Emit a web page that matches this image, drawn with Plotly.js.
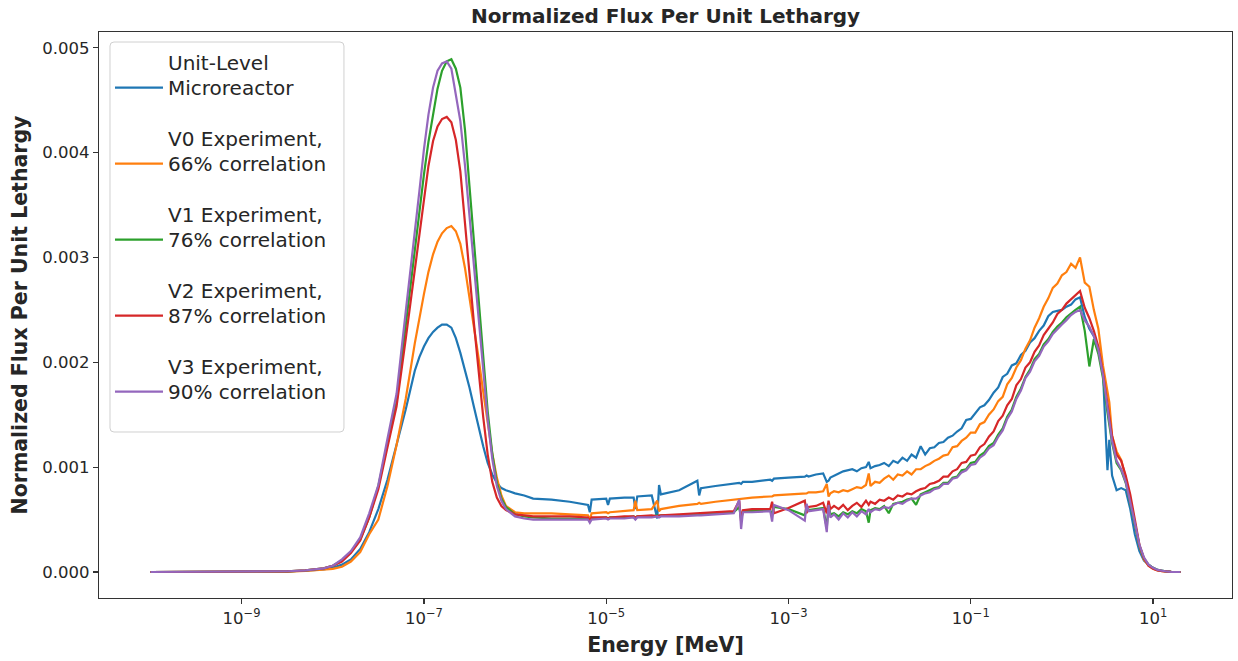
<!DOCTYPE html>
<html>
<head>
<meta charset="utf-8">
<script src="https://cdn.plot.ly/plotly-3.0.1.min.js"></script>
<style>
  html, body { margin: 0; padding: 0; background: #ffffff; }
  #chart { width: 1238px; height: 661px; }
</style>
</head>
<body>
<div id="chart"></div>
<script>
// Energy grid in MeV (shared by every spectrum)
const energy = [
  1e-10, 3.16e-10, 1e-9, 1.78e-9, 3.16e-9,
  5.01e-9, 7.94e-9, 1e-8, 1.26e-8, 1.58e-8, 2.0e-8, 2.51e-8, 3.16e-8, 3.98e-8, 5.01e-8, 6.31e-8, 7.94e-8,
  8.91e-8, 1e-7, 1.12e-7, 1.26e-7, 1.41e-7, 1.58e-7, 1.78e-7, 2.0e-7, 2.24e-7, 2.51e-7,
  2.82e-7, 3.16e-7, 3.55e-7, 3.98e-7, 4.47e-7, 5.01e-7, 5.62e-7, 6.31e-7, 7.08e-7, 7.94e-7, 1e-6, 1.26e-6, 1.58e-6,
  2.51e-6, 3.98e-6, 6.31e-6, 6.61e-6, 6.92e-6, 1.0e-5, 1.047e-5, 1.096e-5, 1.58e-5, 2.0e-5, 2.09e-5, 2.19e-5, 3.16e-5,
  3.63e-5, 3.80e-5, 3.98e-5, 6.31e-5, 1.0e-4, 1.047e-4, 1.096e-4, 1.58e-4, 2.51e-4, 2.88e-4, 3.02e-4, 3.16e-4, 3.98e-4,
  6.31e-4, 6.61e-4, 6.92e-4, 1.0e-3, 1.51e-3, 1.58e-3, 1.66e-3, 2.0e-3, 2.40e-3, 2.63e-3, 2.75e-3, 2.88e-3,
  3.16e-3, 3.55e-3, 3.98e-3, 4.47e-3, 5.01e-3, 5.62e-3, 6.31e-3, 7.08e-3, 7.59e-3, 7.94e-3, 8.91e-3, 1.0e-2,
  1.12e-2, 1.26e-2, 1.41e-2, 1.58e-2, 1.78e-2, 2.0e-2, 2.24e-2, 2.51e-2, 2.82e-2, 3.16e-2, 3.55e-2, 3.98e-2,
  4.47e-2, 5.01e-2, 5.62e-2, 6.31e-2, 7.08e-2, 7.94e-2, 8.91e-2, 0.1, 0.112, 0.126, 0.141, 0.158,
  0.178, 0.2, 0.224, 0.251, 0.282, 0.316, 0.355, 0.398, 0.447, 0.501, 0.562, 0.631,
  0.708, 0.794, 0.891, 1.0, 1.12, 1.26, 1.41, 1.58, 1.78, 2.0, 2.24, 2.51,
  2.82, 3.16, 3.31, 3.55, 3.98, 4.47, 5.01, 5.62, 6.31, 7.08, 7.94, 8.91,
  10, 11.2, 12.6, 14.1, 15.8, 20
];

// Normalized flux per unit lethargy for each case
const unitLevel = [
  0, 0, 0.000001, 0.000003, 0.000006,
  0.000012, 0.000025, 0.00004, 0.00007, 0.00012, 0.00022, 0.00038, 0.0006, 0.00088, 0.00121, 0.00155, 0.00192,
  0.00205, 0.00215, 0.00223, 0.00229, 0.00233, 0.00236, 0.00236, 0.00233, 0.00223, 0.00209,
  0.00193, 0.00176, 0.00157, 0.00138, 0.0012, 0.00104, 0.00093, 0.00085, 0.0008, 0.00078, 0.00075, 0.00073, 0.0007,
  0.00069, 0.00067, 0.00064, 0.00057, 0.00069, 0.0007, 0.00064, 0.0007, 0.00071, 0.00071, 0.0006, 0.00072, 0.00073,
  0.00051, 0.00083, 0.00074, 0.00078, 0.00087, 0.00073, 0.0008, 0.00082, 0.00084, 0.00085, 0.00084, 0.00086, 0.00086,
  0.00088, 0.00087, 0.00089, 0.0009, 0.00091, 0.00092, 0.00091, 0.00093, 0.00094, 0.00086, 0.00087, 0.0009,
  0.00092, 0.00094, 0.00096, 0.00097, 0.00098, 0.00096, 0.00099, 0.001, 0.00105, 0.00099, 0.00101, 0.00102,
  0.00104, 0.00101, 0.00106, 0.00104, 0.00109, 0.00106, 0.00112, 0.00109, 0.0012, 0.00112, 0.00118, 0.00119,
  0.00123, 0.00124, 0.00128, 0.0013, 0.00134, 0.00137, 0.00145, 0.00146, 0.00152, 0.00157, 0.00159, 0.00164,
  0.00171, 0.00176, 0.00186, 0.00189, 0.00197, 0.00199, 0.00207, 0.00211, 0.00219, 0.00223, 0.0023, 0.00235,
  0.00244, 0.00248, 0.00249, 0.0025, 0.00253, 0.00255, 0.0026, 0.00262, 0.00243, 0.00232, 0.00225, 0.00212,
  0.0019, 0.00097, 0.00126, 0.00092, 0.00078, 0.0008, 0.00078, 0.0006, 0.00036, 0.0002, 0.00011, 0.00007,
  0.00004, 0.00002, 0.00001, 0.000005, 0.000002, 0
];

const v0 = [
  0, 0, 0.000001, 0.000002, 0.000004,
  0.00001, 0.00002, 0.00003, 0.00005, 0.0001, 0.00019, 0.00036, 0.0005, 0.00082, 0.00121, 0.00165, 0.00218,
  0.00243, 0.00265, 0.00286, 0.00303, 0.00315, 0.00323, 0.00328, 0.0033, 0.00325, 0.00313,
  0.0029, 0.00262, 0.00233, 0.00204, 0.00172, 0.00141, 0.00113, 0.0009, 0.00073, 0.00063, 0.00057, 0.00056, 0.00056,
  0.00056, 0.00055, 0.00054, 0.0005, 0.00056, 0.00057, 0.00056, 0.00057, 0.00058, 0.00059, 0.00068, 0.00059, 0.0006,
  0.00068, 0.00058, 0.0006, 0.00063, 0.00065, 0.00066, 0.00065, 0.00067, 0.00069, 0.0007, 0.0007, 0.0007, 0.00071,
  0.00072, 0.00072, 0.00073, 0.00074, 0.00075, 0.00075, 0.00076, 0.00076, 0.00077, 0.00084, 0.00072, 0.00075,
  0.00077, 0.00076, 0.00078, 0.00077, 0.00079, 0.00081, 0.0008, 0.00083, 0.00094, 0.00082, 0.00086, 0.00085,
  0.00089, 0.00092, 0.00088, 0.00093, 0.00092, 0.00096, 0.00093, 0.00098, 0.00098, 0.00101, 0.00103, 0.00106,
  0.00108, 0.00111, 0.00112, 0.00119, 0.0012, 0.00125, 0.00128, 0.00133, 0.00133, 0.00141, 0.00143, 0.0015,
  0.00155, 0.00163, 0.00167, 0.00179, 0.00185, 0.00195, 0.00202, 0.00213, 0.00221, 0.00233, 0.00242, 0.00253,
  0.00261, 0.00271, 0.00275, 0.00283, 0.00286, 0.00294, 0.0029, 0.003, 0.00276, 0.00272, 0.0025, 0.00232,
  0.00197, 0.0017, 0.00162, 0.0013, 0.00115, 0.00107, 0.0009, 0.00068, 0.00045, 0.00025, 0.00012, 0.00006,
  0.00003, 0.000015, 0.000008, 0.000004, 0.000002, 0
];

const v1 = [
  0, 0, 0.000001, 0.000003, 0.000006,
  0.000015, 0.000035, 0.00006, 0.00011, 0.00019, 0.00031, 0.00052, 0.00082, 0.00122, 0.00162, 0.00235, 0.00308,
  0.00345, 0.00379, 0.0041, 0.00436, 0.00461, 0.00478, 0.00487, 0.00489, 0.0048, 0.00462,
  0.00422, 0.00368, 0.00314, 0.0026, 0.00205, 0.00153, 0.00113, 0.00085, 0.0007, 0.00062, 0.00055, 0.00053, 0.00052,
  0.00051, 0.00051, 0.00051, 0.00048, 0.00051, 0.00052, 0.00051, 0.00052, 0.00052, 0.00053, 0.00051, 0.00053, 0.00053,
  0.00054, 0.00053, 0.00054, 0.00054, 0.00055, 0.00055, 0.00055, 0.00056, 0.00057, 0.00062, 0.00051, 0.00058, 0.00058,
  0.00059, 0.00054, 0.00062, 0.0006, 0.00054, 0.00063, 0.00059, 0.0006, 0.00061, 0.00042, 0.00063, 0.00055,
  0.00056, 0.00053, 0.00057, 0.00055, 0.00058, 0.00056, 0.0006, 0.00058, 0.00047, 0.00059, 0.00061, 0.0006,
  0.00063, 0.00056, 0.00065, 0.00066, 0.00067, 0.00069, 0.0007, 0.00064, 0.00074, 0.00076, 0.00078, 0.0008,
  0.00081, 0.00085, 0.00085, 0.0009, 0.00091, 0.00097, 0.00098, 0.00104, 0.00105, 0.00111, 0.00114, 0.0012,
  0.00123, 0.00131, 0.00137, 0.00148, 0.00155, 0.00167, 0.00175, 0.00186, 0.00193, 0.00203, 0.00208, 0.00217,
  0.00222, 0.00229, 0.00234, 0.00238, 0.00243, 0.00247, 0.0025, 0.00253, 0.0023, 0.00196, 0.00222, 0.00208,
  0.00185, 0.00152, 0.0014, 0.00123, 0.00104, 0.00097, 0.00085, 0.00067, 0.00046, 0.00025, 0.00013, 0.00007,
  0.00004, 0.00002, 0.00001, 0.000005, 0.000002, 0
];

const v2 = [
  0, 0, 0.000001, 0.000003, 0.000006,
  0.000015, 0.000035, 0.00006, 0.0001, 0.00018, 0.0003, 0.00052, 0.00079, 0.00119, 0.00158, 0.00222, 0.00289,
  0.00325, 0.00357, 0.00387, 0.00411, 0.00425, 0.00432, 0.00434, 0.00429, 0.00412, 0.00382,
  0.00336, 0.00285, 0.00236, 0.0019, 0.00148, 0.00112, 0.00086, 0.00071, 0.00063, 0.00059, 0.00055, 0.00054, 0.00053,
  0.00053, 0.00053, 0.00052, 0.00049, 0.00052, 0.00052, 0.00051, 0.00052, 0.00053, 0.00053, 0.00052, 0.00053, 0.00054,
  0.00053, 0.00054, 0.00054, 0.00055, 0.00056, 0.00056, 0.00056, 0.00057, 0.00058, 0.00068, 0.00048, 0.00059, 0.0006,
  0.0006, 0.00067, 0.00056, 0.00061, 0.00068, 0.00056, 0.00062, 0.00063, 0.00066, 0.00056, 0.00068, 0.0006,
  0.00063, 0.0006, 0.00064, 0.00059, 0.00063, 0.00066, 0.00062, 0.00068, 0.00064, 0.00067, 0.00065, 0.00069,
  0.00068, 0.00071, 0.00069, 0.00073, 0.00072, 0.00075, 0.00074, 0.00077, 0.00079, 0.0008, 0.00084, 0.00085,
  0.00087, 0.00091, 0.00091, 0.00096, 0.00098, 0.00104, 0.00105, 0.00111, 0.00112, 0.00119, 0.00122, 0.00129,
  0.00134, 0.00144, 0.00149, 0.00159, 0.00165, 0.00178, 0.00184, 0.00195, 0.002, 0.0021, 0.00216, 0.00226,
  0.00232, 0.00238, 0.00246, 0.0025, 0.00256, 0.0026, 0.00264, 0.00268, 0.00252, 0.00242, 0.0023, 0.00215,
  0.0019, 0.00162, 0.0015, 0.0013, 0.00112, 0.00106, 0.00092, 0.00074, 0.0005, 0.00026, 0.00013, 0.00006,
  0.00003, 0.000015, 0.000008, 0.000004, 0.000002, 0
];

const v3 = [
  0, 0, 0.000001, 0.000003, 0.000007,
  0.000015, 0.000035, 0.00006, 0.00012, 0.0002, 0.00033, 0.00056, 0.00083, 0.00127, 0.0017, 0.00248, 0.00322,
  0.00363, 0.00403, 0.00436, 0.00462, 0.00478, 0.00485, 0.00487, 0.0048, 0.00455, 0.0043,
  0.00388, 0.0034, 0.0029, 0.0024, 0.0019, 0.00145, 0.00108, 0.00082, 0.00068, 0.0006, 0.00053, 0.00051, 0.0005,
  0.0005, 0.0005, 0.0005, 0.00047, 0.0005, 0.00051, 0.0005, 0.00051, 0.00051, 0.00052, 0.0005, 0.00052, 0.00052,
  0.00053, 0.00052, 0.00053, 0.00053, 0.00054, 0.00054, 0.00054, 0.00055, 0.00056, 0.00069, 0.00041, 0.00057, 0.00057,
  0.00058, 0.00048, 0.00064, 0.00059, 0.00049, 0.00065, 0.00058, 0.00059, 0.0006, 0.00038, 0.00064, 0.00052,
  0.00055, 0.0005, 0.00056, 0.00052, 0.00057, 0.00053, 0.00058, 0.00055, 0.0006, 0.00057, 0.0006, 0.00059,
  0.00062, 0.00061, 0.00064, 0.00066, 0.00065, 0.00068, 0.0007, 0.0007, 0.00073, 0.00075, 0.00076, 0.00079,
  0.0008, 0.00084, 0.00084, 0.00089, 0.0009, 0.00095, 0.00097, 0.00102, 0.00103, 0.00109, 0.00112, 0.00118,
  0.00121, 0.00129, 0.00135, 0.00146, 0.00153, 0.00165, 0.00173, 0.00185, 0.00191, 0.00201, 0.00206, 0.00215,
  0.0022, 0.00227, 0.00232, 0.00236, 0.0024, 0.00245, 0.00248, 0.0025, 0.0024, 0.00234, 0.00225, 0.00212,
  0.00188, 0.00155, 0.00142, 0.00125, 0.00106, 0.00098, 0.00086, 0.00068, 0.00047, 0.00026, 0.00014, 0.00007,
  0.00004, 0.00002, 0.00001, 0.000005, 0.000002, 0
];

const seriesNames = [
  'Unit-Level<br>Microreactor',
  'V0 Experiment,<br>66% correlation',
  'V1 Experiment,<br>76% correlation',
  'V2 Experiment,<br>87% correlation',
  'V3 Experiment,<br>90% correlation'
];
const seriesValues = [unitLevel, v0, v1, v2, v3];
const seriesColors = ['#1f77b4', '#ff7f0e', '#2ca02c', '#d62728', '#9467bd'];

const xTickVals = [1e-9, 1e-7, 1e-5, 1e-3, 1e-1, 1e1];
const xTickText = ['10<sup>−9</sup>', '10<sup>−7</sup>', '10<sup>−5</sup>', '10<sup>−3</sup>', '10<sup>−1</sup>', '10<sup>1</sup>'];
const yTickVals = [0, 0.001, 0.002, 0.003, 0.004, 0.005];
const yTickText = ['0.000', '0.001', '0.002', '0.003', '0.004', '0.005'];

const FONT = 'DejaVu Sans, Liberation Sans, sans-serif';
const INK = '#262626';

const traces = seriesValues.map((vals, i) => ({
  type: 'scatter',
  mode: 'lines',
  x: energy,
  y: vals,
  name: seriesNames[i],
  legendgroup: 'g' + i,
  line: { color: seriesColors[i], width: 2.2 },
  hoverinfo: 'skip'
}));

// Rounded legend frame, drawn as a paper-space path behind the legend entries
function roundedBox(x0, y0, x1, y1, rx, ry) {
  return 'M' + (x0 + rx) + ',' + y1 +
    ' L' + (x1 - rx) + ',' + y1 +
    ' Q' + x1 + ',' + y1 + ' ' + x1 + ',' + (y1 - ry) +
    ' L' + x1 + ',' + (y0 + ry) +
    ' Q' + x1 + ',' + y0 + ' ' + (x1 - rx) + ',' + y0 +
    ' L' + (x0 + rx) + ',' + y0 +
    ' Q' + x0 + ',' + y0 + ' ' + x0 + ',' + (y0 + ry) +
    ' L' + x0 + ',' + (y1 - ry) +
    ' Q' + x0 + ',' + y1 + ' ' + (x0 + rx) + ',' + y1 + ' Z';
}
const legendFrame = {
  type: 'path', xref: 'paper', yref: 'paper', layer: 'above',
  path: roundedBox(0.0097, 0.2933, 0.2162, 0.9823, 0.0035, 0.007),
  fillcolor: 'rgba(255,255,255,0.85)',
  line: { color: '#d0d0d0', width: 1 }
};

const layout = {
  width: 1238,
  height: 661,
  paper_bgcolor: '#ffffff',
  plot_bgcolor: '#ffffff',
  margin: { l: 99, r: 6, t: 32, b: 63 },
  font: { family: FONT, color: INK },
  title: {
    text: '<b>Normalized Flux Per Unit Lethargy</b>',
    font: { family: FONT, size: 20, color: INK },
    x: 0.5, xref: 'paper', xanchor: 'center',
    y: 1 - 16 / 661, yref: 'container', yanchor: 'middle'
  },
  xaxis: {
    type: 'log',
    range: [-10.565, 1.866],
    tickmode: 'array',
    tickvals: xTickVals,
    ticktext: xTickText,
    ticks: 'outside', ticklen: 5, tickwidth: 1.2, tickcolor: '#333333',
    tickfont: { family: FONT, size: 16.5, color: INK },
    showgrid: false, zeroline: false,
    showline: true, mirror: true, linecolor: '#333333', linewidth: 1.3,
    title: { text: '<b>Energy [MeV]</b>', font: { family: FONT, size: 20.5, color: INK }, standoff: 10 },
    automargin: false
  },
  yaxis: {
    range: [-0.000248, 0.00515],
    tickmode: 'array',
    tickvals: yTickVals,
    ticktext: yTickText,
    ticks: 'outside', ticklen: 5, tickwidth: 1.2, tickcolor: '#333333',
    tickfont: { family: FONT, size: 16.5, color: INK },
    showgrid: false, zeroline: false,
    showline: true, mirror: true, linecolor: '#333333', linewidth: 1.3,
    title: { text: '<b>Normalized Flux Per Unit Lethargy</b>', font: { family: FONT, size: 20.5, color: INK }, standoff: 9 },
    automargin: false
  },
  shapes: [legendFrame],
  showlegend: true,
  legend: {
    x: 0.0097, y: 0.982, xanchor: 'left', yanchor: 'top',
    bgcolor: 'rgba(0,0,0,0)', borderwidth: 0,
    font: { family: FONT, size: 20, color: INK },
    valign: 'bottom',
    itemwidth: 48,
    tracegroupgap: 21,
    traceorder: 'grouped'
  }
};

Plotly.newPlot('chart', traces, layout, { staticPlot: true, displayModeBar: false });
</script>
</body>
</html>
